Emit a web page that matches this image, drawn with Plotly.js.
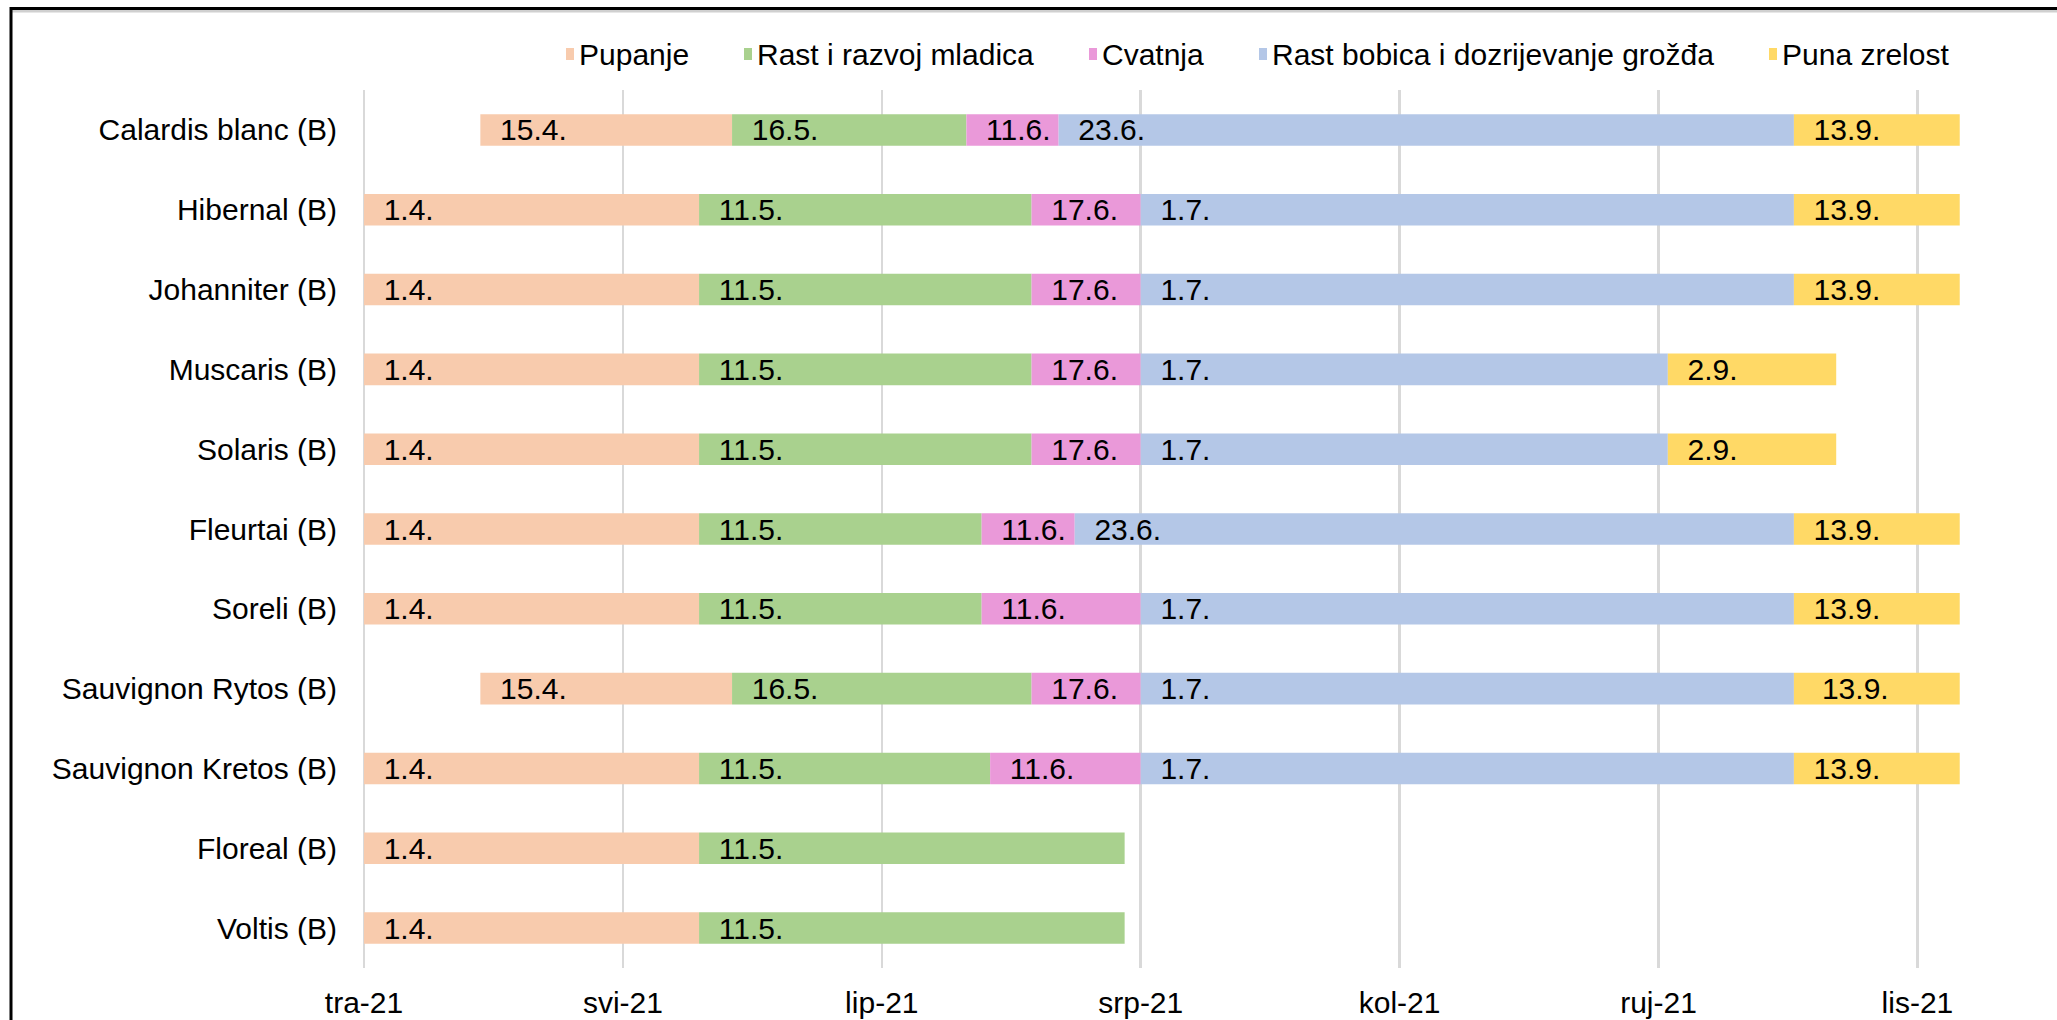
<!DOCTYPE html>
<html>
<head>
<meta charset="utf-8">
<script src="https://cdn.plot.ly/plotly-3.0.1.min.js"></script>
<style>
html,body{margin:0;padding:0;background:#fff;}
#chart{width:2057px;height:1020px;}
</style>
</head>
<body>
<div id="chart"></div>
<script>
// ---------- DATA ----------
var varieties = ["Calardis blanc (B)","Hibernal (B)","Johanniter (B)","Muscaris (B)","Solaris (B)",
  "Fleurtai (B)","Soreli (B)","Sauvignon Rytos (B)","Sauvignon Kretos (B)","Floreal (B)","Voltis (B)"];

var phaseNames = ["Pupanje","Rast i razvoj mladica","Cvatnja","Rast bobica i dozrijevanje grožđa","Puna zrelost"];

// phase start / end, in days after 1 April 2021
var pupanjeStart = [13.75,0,0,0,0,0,0,13.75,0,0,0];
var pupanjeEnd   = [43.5,39.6,39.6,39.6,39.6,39.6,39.6,43.5,39.6,39.6,39.6];
var rastStart    = [43.5,39.6,39.6,39.6,39.6,39.6,39.6,43.5,39.6,39.6,39.6];
var rastEnd      = [71.2,78.9,78.9,78.9,78.9,73.0,73.0,78.9,74.0,89.9,89.9];
var cvatnjaStart = [71.2,78.9,78.9,78.9,78.9,73.0,73.0,78.9,74.0,null,null];
var cvatnjaEnd   = [82.1,91.8,91.8,91.8,91.8,84.0,91.8,91.8,91.8,null,null];
var bobicaStart  = [82.1,91.8,91.8,91.8,91.8,84.0,91.8,91.8,91.8,null,null];
var bobicaEnd    = [169.0,169.0,169.0,154.1,154.1,169.0,169.0,169.0,169.0,null,null];
var zrelostStart = [169.0,169.0,169.0,154.1,154.1,169.0,169.0,169.0,169.0,null,null];
var zrelostEnd   = [188.6,188.6,188.6,174.0,174.0,188.6,188.6,188.6,188.6,null,null];

// data labels (dates shown in the bars)
var pupanjeLbl = ["15.4.","1.4.","1.4.","1.4.","1.4.","1.4.","1.4.","15.4.","1.4.","1.4.","1.4."];
var rastLbl    = ["16.5.","11.5.","11.5.","11.5.","11.5.","11.5.","11.5.","16.5.","11.5.","11.5.","11.5."];
var cvatnjaLbl = ["11.6.","17.6.","17.6.","17.6.","17.6.","11.6.","11.6.","17.6.","11.6.","",""];
var bobicaLbl  = ["23.6.","1.7.","1.7.","1.7.","1.7.","23.6.","1.7.","1.7.","1.7.","",""];
var zrelostLbl = ["13.9.","13.9.","13.9.","2.9.","2.9.","13.9.","13.9."," 13.9.","13.9.","",""];

// x-axis tick labels
var tickLabels = ["tra-21","svi-21","lip-21","srp-21","kol-21","ruj-21","lis-21"];
var tickStep = 30.6; // days between major ticks

var colors = ["#F8CBAD","#A9D18E","#EA99D9","#B4C7E7","#FFD966"];

// ---------- BUILD ----------
var FONT = '"Liberation Sans", Arial, sans-serif';
var starts = [pupanjeStart,rastStart,cvatnjaStart,bobicaStart,zrelostStart];
var ends   = [pupanjeEnd,rastEnd,cvatnjaEnd,bobicaEnd,zrelostEnd];
var lbls   = [pupanjeLbl,rastLbl,cvatnjaLbl,bobicaLbl,zrelostLbl];

var NB = "\u00a0";
var traces = phaseNames.map(function(name, i){
  var s = starts[i], e = ends[i];
  return {
    type: "bar",
    orientation: "h",
    name: name,
    y: varieties,
    base: s,
    x: s.map(function(v, k){ return (v === null || e[k] === null) ? null : e[k] - v; }),
    text: lbls[i].map(function(t){ return t ? NB + NB + t.replace(/ /g, NB) : ""; }),
    textposition: "inside",
    insidetextanchor: "start",
    textangle: 0,
    constraintext: "none",
    insidetextfont: {family: FONT, size: 30, color: "#000"},
    marker: {color: colors[i], line: {width: 0}},
    width: 0.395,
    hoverinfo: "skip",
    showlegend: false
  };
});

// plot-area geometry (pixels)
var L = 360, R = 2040, T = 90, B = 968;
var pxPerDay = 8.461;
var x0 = -(364 - L) / pxPerDay;
var x1 = x0 + (R - L) / pxPerDay;
function px(p){ return (p - L) / (R - L); }
function py(p){ return (B - p) / (B - T); }

var tickVals = tickLabels.map(function(_, k){ return k * tickStep; });

// custom legend (Excel-like small square markers)
var legendX = [566, 744, 1089, 1259, 1769];
var shapes = [], annotations = [];
phaseNames.forEach(function(n, i){
  shapes.push({type:"rect", xref:"paper", yref:"paper",
    x0: px(legendX[i]), x1: px(legendX[i] + 8), y0: py(60), y1: py(48),
    fillcolor: colors[i], line:{width:0}});
  annotations.push({xref:"paper", yref:"paper", x: px(legendX[i] + 11), y: py(54),
    xanchor:"left", yanchor:"middle", text: n, showarrow:false,
    font:{family: FONT, size: 30, color:"#000"}});
});
// chart frame (top and left)
shapes.push({type:"line", xref:"paper", yref:"paper", x0: px(10), x1: px(2057), y0: py(11), y1: py(11),
  line:{color:"#d0d0d0", width:3}});
shapes.push({type:"line", xref:"paper", yref:"paper", x0: px(10), x1: px(2057), y0: py(8.5), y1: py(8.5),
  line:{color:"#000", width:3}});
shapes.push({type:"line", xref:"paper", yref:"paper", x0: px(11), x1: px(11), y0: py(7), y1: py(1025),
  line:{color:"#000", width:3}});

var layout = {
  width: 2057, height: 1020,
  margin: {l: L, r: 2057 - R, t: T, b: 1020 - B, pad: 0},
  paper_bgcolor: "#fff", plot_bgcolor: "#fff",
  barmode: "overlay",
  showlegend: false,
  font: {family: FONT, size: 30, color: "#000"},
  xaxis: {
    range: [x0, x1],
    tickmode: "array", tickvals: tickVals, ticktext: tickLabels,
    showgrid: true, gridcolor: "#d9d9d9", gridwidth: 2.5,
    zeroline: false, showline: false, ticks: "",
    ticklabelstandoff: 14,
    tickfont: {family: FONT, size: 30, color: "#000"}
  },
  yaxis: {
    type: "category",
    autorange: "reversed",
    showgrid: false, zeroline: false, showline: false, ticks: "",
    ticklabelstandoff: 22,
    tickfont: {family: FONT, size: 30, color: "#000"}
  },
  shapes: shapes,
  annotations: annotations
};

Plotly.newPlot("chart", traces, layout, {displayModeBar: false, staticPlot: true});
</script>
</body>
</html>
